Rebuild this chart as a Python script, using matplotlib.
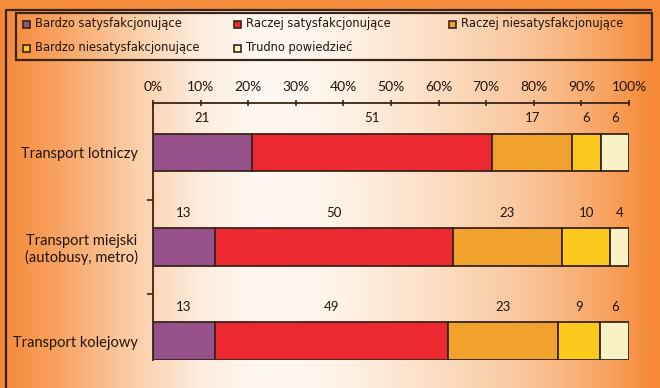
import numpy as np
import matplotlib
matplotlib.use("Agg")
import matplotlib.pyplot as plt
from matplotlib.colors import LinearSegmentedColormap
from matplotlib.patches import Rectangle

categories = ["Transport lotniczy", "Transport miejski\n(autobusy, metro)", "Transport kolejowy"]
series_names = ["Bardzo satysfakcjonujące", "Raczej satysfakcjonujące",
                "Raczej niesatysfakcjonujące", "Bardzo niesatysfakcjonujące",
                "Trudno powiedzieć"]
bardzo_sat = [21, 13, 13]
raczej_sat = [51, 50, 49]
raczej_nie = [17, 23, 23]
bardzo_nie = [6, 10, 9]
trudno = [6, 4, 6]
xtick_labels = ["0%", "10%", "20%", "30%", "40%", "50%", "60%", "70%", "80%", "90%", "100%"]

colors = ["#96508A", "#EC2830", "#F0A22C", "#FBC81C", "#F8F2C6"]
edge = "#3a2418"
txt = "#22140c"

W, H = 660, 388
fig = plt.figure(figsize=(W / 100, H / 100), dpi=100)

# background
bg = fig.add_axes([0, 0, 1, 1], zorder=-10)
bg.set_xlim(0, W); bg.set_ylim(H, 0); bg.axis("off")
bg.add_patch(Rectangle((0, 0), W, H, color="#F58C3C", zorder=0))
stops_x = [0, 6, 60, 130, 200, 260, 330, 420, 520, 590, 640, 660]
stops_c = [(245, 136, 52), (246, 140, 60), (248, 164, 100), (251, 205, 166), (254, 236, 222),
           (255, 249, 243), (255, 244, 234), (252, 226, 202), (250, 200, 160),
           (248, 172, 112), (246, 146, 68), (245, 136, 52)]
cmap = LinearSegmentedColormap.from_list(
    "bg", [(x / W, tuple(v / 255 for v in c)) for x, c in zip(stops_x, stops_c)])
grad = np.linspace(0, 1, W).reshape(1, -1)
bg.imshow(grad, cmap=cmap, aspect="auto", extent=(0, W, H, 10), zorder=1)
# frame lines
bg.plot([6, 6, 652], [H, 10, 10], color=edge, lw=1.6, zorder=3, solid_capstyle="butt")
bg.add_patch(Rectangle((16, 13), 636, 47, fill=False, ec=edge, lw=1.6, zorder=3))

# legend (manual, in pixel coords)
leg_pos = [(23, 24), (234, 24), (449, 24), (23, 48), (234, 48)]
for (lx, ly), name, c in zip(leg_pos, series_names, colors):
    bg.add_patch(Rectangle((lx, ly - 3.5), 7, 7, fc=c, ec=edge, lw=1.2, zorder=4))
    bg.text(lx + 12, ly, name, fontsize=8.3, color=txt, va="center", ha="left",
            family="DejaVu Sans", zorder=4)

# main axes
ax = fig.add_axes([153 / W, 1 - 360 / H, 476 / W, 257 / H])
ax.patch.set_alpha(0)
data = np.array([bardzo_sat, raczej_sat, raczej_nie, bardzo_nie, trudno], dtype=float)
totals = data.sum(axis=0)
norm = data / totals * 100
ypos = np.arange(len(categories))
left = np.zeros(len(categories))
for k in range(data.shape[0]):
    ax.barh(ypos, norm[k], left=left, height=0.4, color=colors[k], edgecolor=edge, linewidth=1.3)
    for i in range(len(categories)):
        ax.text(left[i] + norm[k][i] / 2, ypos[i] - 0.36, f"{int(data[k][i])}",
                ha="center", va="center", fontsize=9.5, color=txt, family="Lato")
    left += norm[k]

ax.set_xlim(0, 100)
ax.set_ylim(2.2, -0.524)
ax.xaxis.tick_top()
ax.set_xticks(np.arange(0, 101, 10))
ax.set_xticklabels(xtick_labels, family="Lato", fontsize=10, color=txt)
ax.tick_params(axis="x", direction="inout", length=5, width=1.2, color=edge, pad=5)
ax.set_yticks(ypos)
ax.set_yticklabels(categories, family="Lato", fontsize=10.5, color=txt, ha="right",
                   multialignment="center")
ax.tick_params(axis="y", which="major", length=0, pad=11)
ax.set_yticks([0.5, 1.5], minor=True)
ax.tick_params(axis="y", which="minor", direction="out", length=4, width=1.2, color=edge)
for s in ["right", "bottom"]:
    ax.spines[s].set_visible(False)
for s in ["left", "top"]:
    ax.spines[s].set_color(edge)
    ax.spines[s].set_linewidth(1.3)

fig.savefig("out.png", dpi=100)
